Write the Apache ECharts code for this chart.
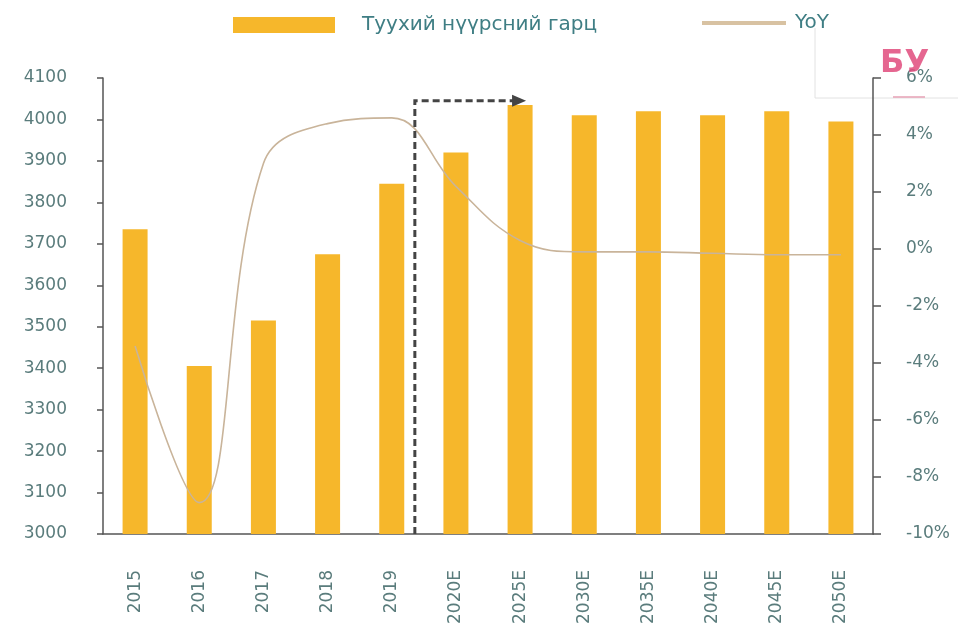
<!DOCTYPE html>
<html>
<head>
<meta charset="utf-8">
<script src="https://cdn.jsdelivr.net/npm/echarts@6/dist/echarts.min.js"></script>
<style>
  html, body { margin: 0; padding: 0; background: #ffffff; }
  #chart { width: 958px; height: 636px; }
</style>
</head>
<body>
<div id="chart"></div>
<script>
// Coal production volume (bars) and year-over-year change (line)
const years = ['2015', '2016', '2017', '2018', '2019', '2020E', '2025E', '2030E', '2035E', '2040E', '2045E', '2050E'];
const output = [3735, 3405, 3515, 3675, 3845, 3920, 4035, 4010, 4020, 4010, 4020, 3995];
const yoy = [-3.4, -8.9, 3.0, 4.4, 4.6, 2.2, 0.3, -0.1, -0.1, -0.15, -0.2, -0.2];
const leftTicks = { min: 3000, max: 4100, step: 100 };
const rightTicks = { min: -10, max: 6, step: 2 };

const barName = 'Туухий нүүрсний гарц';
const lineName = 'YoY';

const font = 'DejaVu Sans';
const labelColor = '#5a7c7c';
const axisColor = '#555555';

const chart = echarts.init(document.getElementById('chart'), null, { renderer: 'canvas' });

chart.setOption({
  animation: false,
  backgroundColor: '#ffffff',
  grid: { left: 103, right: 85, top: 78, bottom: 102, containLabel: false },
  legend: [
    {
      data: [{ name: barName, icon: 'rect' }],
      left: 228, top: 10,
      itemWidth: 102, itemHeight: 16,
      textStyle: { fontFamily: font, fontSize: 20, color: '#3f7e84', padding: [0, 0, 0, 22] }
    },
    {
      data: [{ name: lineName, icon: 'rect', itemStyle: { color: '#d8c2a2' } }],
      left: 697, top: 8,
      itemWidth: 84, itemHeight: 4,
      textStyle: { fontFamily: font, fontSize: 20, color: '#3f7e84', padding: [0, 0, 0, 4] }
    }
  ],
  xAxis: {
    type: 'category',
    data: years,
    axisLine: { onZero: false, lineStyle: { color: axisColor, width: 1.5 } },
    axisTick: { show: false },
    axisLabel: { rotate: 90, margin: 36, fontFamily: font, fontSize: 17, color: labelColor }
  },
  yAxis: [
    {
      type: 'value',
      min: leftTicks.min, max: leftTicks.max, interval: leftTicks.step,
      splitLine: { show: false },
      axisLine: { show: true, lineStyle: { color: axisColor, width: 1.5 } },
      axisTick: { show: true, length: 6, lineStyle: { color: axisColor, width: 1.5 } },
      axisLabel: { margin: 36, fontFamily: font, fontSize: 17, color: labelColor, formatter: v => String(v) }
    },
    {
      type: 'value',
      position: 'right',
      min: rightTicks.min, max: rightTicks.max, interval: rightTicks.step,
      splitLine: { show: false },
      axisLine: { show: true, lineStyle: { color: axisColor, width: 1.5 } },
      axisTick: { show: true, length: 8, lineStyle: { color: axisColor, width: 1.5 } },
      axisLabel: { margin: 33, fontFamily: font, fontSize: 17, color: labelColor, formatter: '{value}%' }
    }
  ],
  series: [
    {
      name: barName,
      type: 'bar',
      data: output,
      barWidth: 25,
      itemStyle: { color: '#f6b72b' },
      z: 2
    },
    {
      name: lineName,
      type: 'line',
      yAxisIndex: 1,
      data: yoy,
      smooth: 0.4,
      symbol: 'none',
      lineStyle: { color: '#c9b49a', width: 1.6 },
      z: 3
    }
  ]
});

// Forecast-period marker: dashed bracket with an arrow, placed between the axis positions
function drawForecastArrow() {
  const p4 = chart.convertToPixel({ xAxisIndex: 0 }, 4);
  const p5 = chart.convertToPixel({ xAxisIndex: 0 }, 5);
  const p6 = chart.convertToPixel({ xAxisIndex: 0 }, 6);
  const xStart = p4 + (p5 - p4) * 0.36;
  const xEnd = p6 + 6;
  const yBase = chart.convertToPixel({ yAxisIndex: 0 }, 3000);
  const yTop = chart.convertToPixel({ yAxisIndex: 0 }, 4045);

  chart.setOption({
    graphic: [
      {
        type: 'polyline',
        shape: { points: [[xStart, yBase], [xStart, yTop], [xEnd - 12, yTop]] },
        style: { stroke: '#444444', lineWidth: 3, lineDash: [7, 4], fill: null },
        z: 10
      },
      {
        type: 'polygon',
        shape: { points: [[xEnd - 14, yTop - 6], [xEnd, yTop], [xEnd - 14, yTop + 6]] },
        style: { fill: '#444444' },
        z: 10
      },
      // Stamp in the upper right corner
      {
        type: 'line',
        shape: { x1: 815, y1: 28, x2: 815, y2: 98 },
        style: { stroke: '#e2e2e2', lineWidth: 1 }
      },
      {
        type: 'line',
        shape: { x1: 815, y1: 98, x2: 958, y2: 98 },
        style: { stroke: '#e2e2e2', lineWidth: 1 }
      },
      {
        type: 'line',
        shape: { x1: 893, y1: 97, x2: 925, y2: 97 },
        style: { stroke: '#e6a0b4', lineWidth: 1.5 }
      },
      {
        type: 'text',
        left: 880, top: 48,
        style: { text: 'БУ', fontFamily: font, fontSize: 32, fontWeight: 'bold', fill: '#e04b7c', opacity: 0.85 },
        z: 20
      }
    ]
  });
}
drawForecastArrow();
</script>
</body>
</html>
